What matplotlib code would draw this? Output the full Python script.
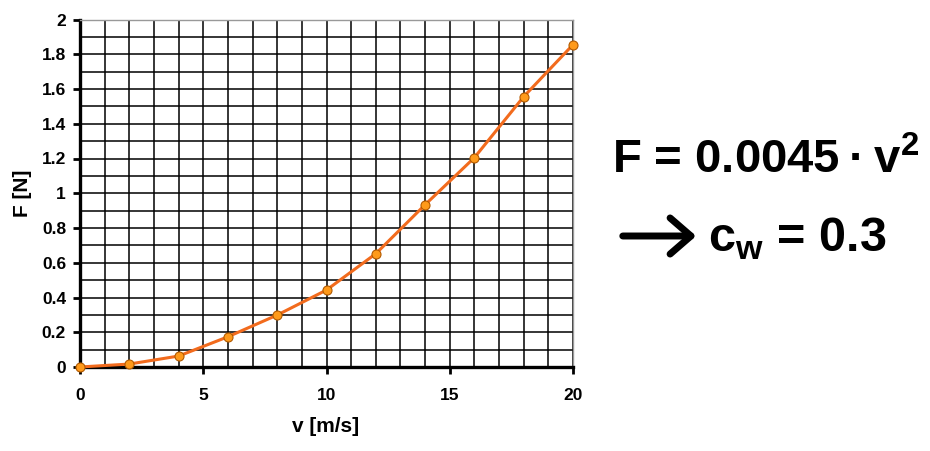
import matplotlib.pyplot as plt
from matplotlib.patches import FancyArrowPatch
from matplotlib.ticker import MultipleLocator, FormatStrFormatter

# measured drag force vs speed
speed = [0, 2, 4, 6, 8, 10, 12, 14, 16, 18, 20]
force = [0.0, 0.017, 0.063, 0.174, 0.299, 0.443, 0.652, 0.934, 1.205, 1.556, 1.855]

x_ticks = [0, 5, 10, 15, 20]
y_ticks = [0, 0.2, 0.4, 0.6, 0.8, 1.0, 1.2, 1.4, 1.6, 1.8, 2.0]

plt.rcParams['font.family'] = ['Liberation Sans', 'DejaVu Sans']
plt.rcParams['mathtext.fontset'] = 'custom'
plt.rcParams['mathtext.rm'] = 'Liberation Sans:bold'
plt.rcParams['mathtext.bf'] = 'Liberation Sans:bold'

fig = plt.figure(figsize=(9.3, 4.51), dpi=100)
ax = fig.add_axes([80 / 930, 1 - 367 / 451, 493 / 930, 347.5 / 451])

ax.plot(speed, force, color="#F26B1D", lw=2.2, zorder=3,
        marker="o", ms=6.5, mfc="#FF9A1A", mec="#B25A00", mew=0.8, clip_on=False)

ax.set_xlim(0, 20)
ax.set_ylim(0, 2)
ax.set_xticks(x_ticks)
ax.set_yticks(y_ticks)
ax.xaxis.set_minor_locator(MultipleLocator(1))
ax.yaxis.set_minor_locator(MultipleLocator(0.1))
ax.yaxis.set_major_formatter(FormatStrFormatter('%g'))
ax.grid(which="both", color="black", lw=1.1)
ax.tick_params(which="minor", length=0)
ax.tick_params(axis="y", which="major", direction="out", length=5, width=2, pad=5,
               labelsize=12.5)
ax.tick_params(axis="x", which="major", direction="out", length=5, width=2, pad=10,
               labelsize=12.5)
for lab in ax.get_xticklabels() + ax.get_yticklabels():
    lab.set_fontweight("bold")

ax.spines["left"].set_linewidth(2.4)
ax.spines["bottom"].set_linewidth(2.4)
for side in ("top", "right"):
    ax.spines[side].set_color("#999999")
    ax.spines[side].set_linewidth(1)

fig.text(23 / 930, 1 - 193 / 451, "F [N]", rotation=90, ha="center", va="center",
         fontsize=15, fontweight="bold")
fig.text(326 / 930, 1 - 427 / 451, "v [m/s]", ha="center", va="center",
         fontsize=15, fontweight="bold")

# result text on the right
fig.text(612 / 930, 1 - 173 / 451, "F = 0.0045\u2009\u00b7\u2009v$^\\mathregular{2}$", ha="left",
         va="baseline", fontsize=34, fontweight="bold")
fig.text(708 / 930, 1 - 252 / 451, r"c$_\mathregular{w}$ = 0.3", ha="left", va="baseline",
         fontsize=35, fontweight="bold")
arrow = FancyArrowPatch((620 / 930, 1 - 236 / 451), (699 / 930, 1 - 236 / 451),
                        transform=fig.transFigure, arrowstyle="->,head_length=0.75,head_width=0.65",
                        lw=5, color="black", mutation_scale=20, capstyle="round",
                        joinstyle="round")
fig.patches.append(arrow)

plt.savefig("out.png", dpi=100)
